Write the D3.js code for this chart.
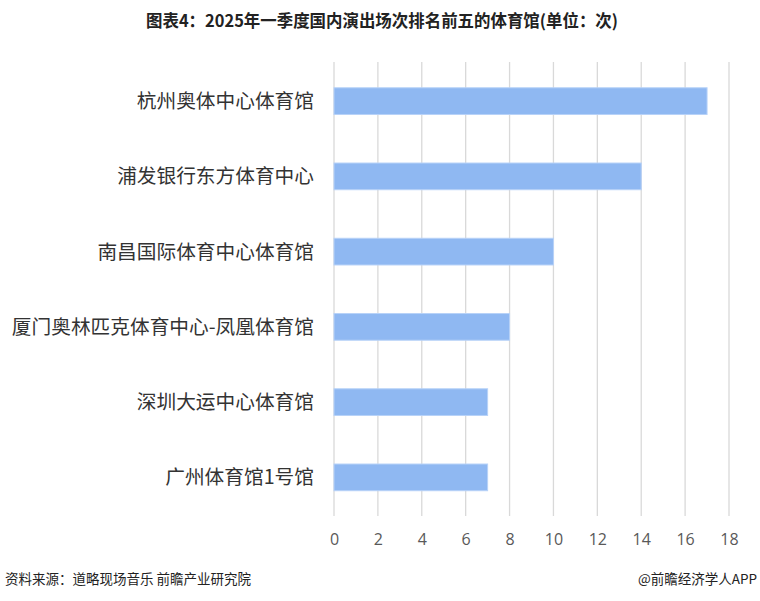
<!DOCTYPE html>
<html><head><meta charset="utf-8">
<script src="https://cdn.jsdelivr.net/npm/d3@7/dist/d3.min.js"></script>
<style>body{margin:0;background:#fff;} svg{display:block;}</style>
</head><body>
<svg id="c" width="760" height="601"></svg>
<script>
const categories = ["杭州奥体中心体育馆","浦发银行东方体育中心","南昌国际体育中心体育馆","厦门奥林匹克体育中心-凤凰体育馆","深圳大运中心体育馆","广州体育馆1号馆"];
const values = [17,14,10,8,7,7];
const tickValues = [0,2,4,6,8,10,12,14,16,18];
const title = "图表4：2025年一季度国内演出场次排名前五的体育馆(单位：次)";
const source = "资料来源：道略现场音乐 前瞻产业研究院";
const brand = "@前瞻经济学人APP";

const svg = d3.select("#c");
const font = "'Noto Sans CJK SC','Microsoft YaHei',sans-serif";
const x = d3.scaleLinear().domain([0,18]).range([334,729]);
const y = d3.scaleBand().domain(categories).range([63.5,515]).paddingInner(0.645).paddingOuter(0.3225);

svg.append("text").attr("x",382).attr("y",27).attr("text-anchor","middle")
  .attr("font-family",font).attr("font-weight","bold").attr("font-size",17).attr("fill","#222")
  .attr("textLength",472).attr("lengthAdjust","spacingAndGlyphs").text(title);

// gridlines
svg.append("g").selectAll("line").data(tickValues).join("line")
  .attr("x1",d=>x(d)).attr("x2",d=>x(d)).attr("y1",62).attr("y2",516)
  .attr("stroke","#d9d9d9").attr("stroke-width",1.3);

// bars
svg.append("g").selectAll("rect").data(values).join("rect")
  .attr("x",x(0)).attr("y",(d,i)=>y(categories[i]))
  .attr("width",d=>x(d)-x(0)).attr("height",y.bandwidth())
  .attr("fill","#8fb8f2").attr("stroke","#b8d2f8").attr("stroke-width",1);

// category labels
svg.append("g").selectAll("text").data(categories).join("text")
  .attr("x",314).attr("y",d=>y(d)+y.bandwidth()/2).attr("dy","0.36em")
  .attr("text-anchor","end").attr("font-family",font).attr("font-size",19.7).attr("fill","#333").text(d=>d);

// x axis labels
const ax = svg.append("g").attr("transform","translate(0,520)").call(d3.axisBottom(x).tickValues(tickValues).tickSize(0).tickPadding(0));
ax.select(".domain").remove();
ax.selectAll("text").attr("y",25).attr("dy",0).attr("font-family","'Open Sans','Noto Sans',sans-serif").attr("font-size",16).attr("fill","#595959");

// footer
svg.append("text").attr("x",5).attr("y",584).attr("font-family",font).attr("font-size",13.5).attr("fill","#222").text(source);
svg.append("text").attr("x",757).attr("y",584).attr("text-anchor","end").attr("font-family",font).attr("font-size",13.5).attr("fill","#222").text(brand);
</script>
</body></html>
